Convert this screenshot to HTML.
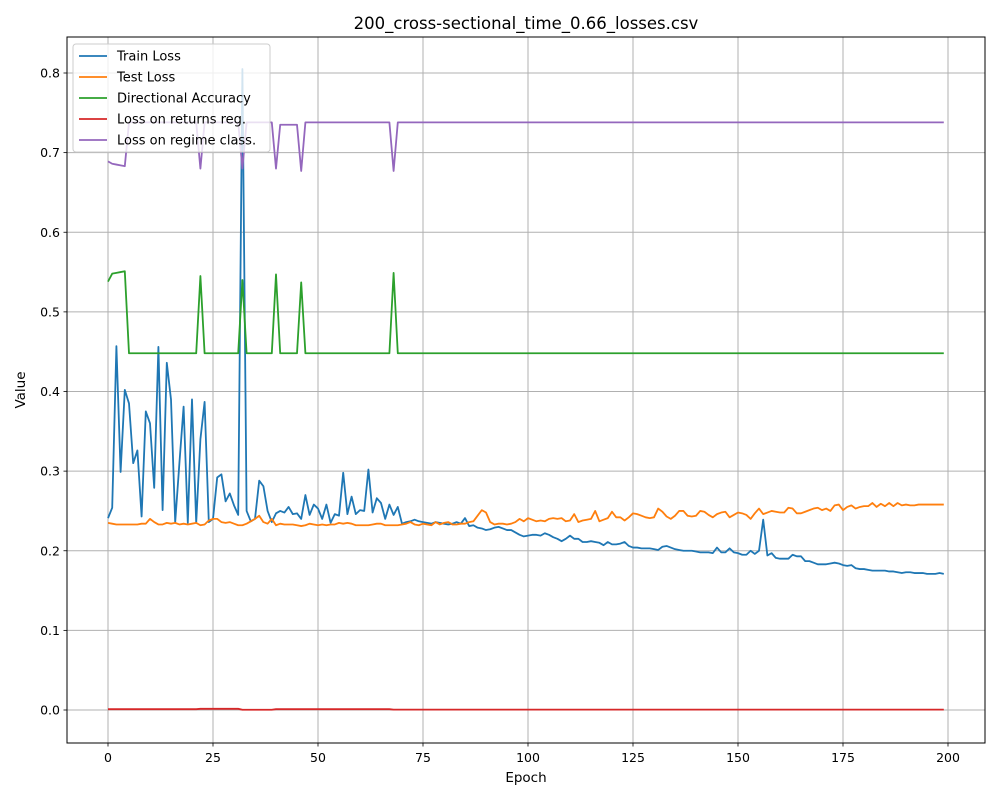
<!DOCTYPE html>
<html><head><meta charset="utf-8"><style>
body{margin:0;background:#fff;font-family:"Liberation Sans","DejaVu Sans",sans-serif;}
svg text{font-family:"DejaVu Sans","Liberation Sans",sans-serif;fill:#000;}
</style></head><body>
<svg id="chart" width="1000" height="800" xmlns="http://www.w3.org/2000/svg">
<rect width="1000" height="800" fill="#fff"/>
<text x="526" y="29" font-size="16.5" text-anchor="middle">200_cross-sectional_time_0.66_losses.csv</text>
<g id="grid"></g><g id="series"></g>
<rect x="67" y="37" width="918" height="706" fill="none" stroke="#000" stroke-width="1"/>
<g id="ticks"></g>
<text x="526" y="782" font-size="13.5" text-anchor="middle">Epoch</text>
<text x="25" y="390" font-size="13.5" text-anchor="middle" transform="rotate(-90 25 390)">Value</text>
<g id="legend"></g>
</svg>
<script>
const xTicks=[0,25,50,75,100,125,150,175,200];
const yTicks=[0.0,0.1,0.2,0.3,0.4,0.5,0.6,0.7,0.8];
const seriesNames=["Train Loss","Test Loss","Directional Accuracy","Loss on returns reg.","Loss on regime class."];
const seriesColors=["#1f77b4","#ff7f0e","#2ca02c","#d62728","#9467bd"];
const trainLoss=[.241,.254,.457,.299,.402,.385,.310,.326,.243,.375,.360,.279,.456,.251,.436,.390,.236,.310,.381,.235,.390,.235,.340,.387,.236,.240,.292,.296,.262,.272,.257,.245,.805,.250,.237,.240,.288,.281,.250,.236,
.247,.250,.248,.255,.246,.247,.240,.270,.245,.258,.253,.240,.258,.235,.246,.244,.298,.246,.268,.246,.251,.250,.302,.248,.266,.260,.240,.258,.245,.255,.234,.236,.237,.239,
.237,.236,.235,.234,.236,.235,
.234,.233,.234,.236,.234,.241,.231,.232,.229,.228,
.226,.227,.229,.230,.228,.226,.226,.223,.220,.218,
.219,.220,.220,.219,.222,.220,.217,.215,.212,.215,
.219,.215,.215,.211,.211,.212,.211,.210,.207,.211,
.208,.208,.209,.211,.206,.204,.204,.203,.203,.203,
.202,.201,.205,.206,.204,.202,.201,.200,.200,.200,
.199,.198,.198,.198,.197,.204,.198,.198,.203,.198,
.197,.195,.195,.200,.196,.200,.239,.194,.197,.191,
.190,.190,.190,.195,.193,.193,.187,.187,.185,.183,
.183,.183,.184,.185,.184,.182,.181,.182,.178,.177,
.177,.176,.175,.175,.175,.175,.174,.174,.173,.172,
.173,.173,.172,.172,.172,.171,.171,.171,.172,.171];
const testLoss=[.235,.234,.233,.233,.233,.233,.233,.233,.234,.234,
.240,.236,.233,.233,.235,.234,.235,.233,.234,.233,
.234,.235,.232,.233,.238,.240,.240,.236,.235,.236,
.234,.232,.232,.234,.237,.240,.244,.236,.234,.240,
.232,.234,.233,.233,.233,.232,.231,.232,.234,.233,
.232,.233,.232,.233,.233,.235,.234,.235,.234,.232,
.232,.232,.232,.233,.234,.234,.232,.232,.232,.232,
.233,.234,.236,.233,.232,.234,.233,.232,.236,.233,
.235,.236,.233,.233,.234,.234,.236,.237,.244,.251,
.248,.236,.233,.234,.234,.233,.234,.236,.240,.237,
.241,.239,.237,.238,.237,.240,.241,.240,.241,.237,
.238,.246,.236,.238,.239,.240,.250,.237,.239,.241,
.249,.242,.242,.238,.242,.247,.246,.244,.242,.241,
.242,.253,.249,.243,.240,.244,.250,.250,.244,.243,
.244,.250,.249,.245,.242,.246,.248,.249,.242,.245,
.248,.247,.245,.240,.247,.253,.246,.248,.250,.249,
.248,.248,.254,.253,.247,.247,.249,.251,.253,.254,
.251,.253,.250,.257,.258,.251,.255,.257,.253,.255,
.256,.256,.260,.255,.259,.256,.260,.256,.260,.257,
.258,.257,.257,.258,.258,.258,.258,.258,.258,.258];
const dirAccSpikes=[[22,.545],[32,.540],[40,.547],[46,.537],[68,.549]];
const dirAccStart=[.538,.548,.549,.550,.551];
const dirAccBase=0.448;
const regimeStart=[.689,.686,.685,.684,.683];
const regimeDips=[[22,.680],[32,.680],[40,.680],[46,.677],[68,.677]];
const regimeMid=[41,45,0.735];
const regimeBase=0.738;
const returnsSegments=[[0,21,.0010],[22,31,.0015],[32,39,.0003],[40,67,.0010],[68,199,.0005]];
const nEpochs=200;

const X=v=>108+v*4.2, Y=v=>710-v*796.25;
const NS="http://www.w3.org/2000/svg";
function mk(tag,attrs,parent){const e=document.createElementNS(NS,tag);for(const k in attrs)e.setAttribute(k,attrs[k]);parent.appendChild(e);return e;}
const grid=document.getElementById('grid'),ticks=document.getElementById('ticks'),ser=document.getElementById('series'),leg=document.getElementById('legend');
xTicks.forEach(t=>{const x=X(t);
 const g=mk('line',{x1:x,x2:x,y1:37,y2:743,stroke:'#b0b0b0','stroke-width':1},grid);
 
 
 mk('line',{x1:x,x2:x,y1:743,y2:746.5,stroke:'#000','stroke-width':0.8},ticks);
 const tx=mk('text',{x:x,y:762,'font-size':12.5,'text-anchor':'middle'},ticks);tx.textContent=t;
 
 });
yTicks.forEach(t=>{const y=Y(t);
 const g=mk('line',{x1:67,x2:985,y1:y,y2:y,stroke:'#b0b0b0','stroke-width':1},grid);
 
 
 mk('line',{x1:63.5,x2:67,y1:y,y2:y,stroke:'#000','stroke-width':0.8},ticks);
 const tx=mk('text',{x:60,y:y+4.5,'font-size':12.5,'text-anchor':'end'},ticks);tx.textContent=t.toFixed(1);
 
 });
const dirAcc=[],regime=[],returnsLoss=[];
for(let i=0;i<nEpochs;i++){
 dirAcc.push(i<dirAccStart.length?dirAccStart[i]:dirAccBase);
 regime.push(i<regimeStart.length?regimeStart[i]:(i>=regimeMid[0]&&i<=regimeMid[1]?regimeMid[2]:regimeBase));
 let r=0.001;returnsSegments.forEach(s=>{if(i>=s[0]&&i<=s[1])r=s[2];});returnsLoss.push(r);}
dirAccSpikes.forEach(s=>dirAcc[s[0]]=s[1]);
regimeDips.forEach(s=>regime[s[0]]=s[1]);
const all=[trainLoss,testLoss,dirAcc,returnsLoss,regime];
const names=['train-loss-line','test-loss-line','directional-accuracy-line','returns-loss-line','regime-loss-line'];
all.forEach((d,k)=>{
 const p=mk('polyline',{points:d.map((v,i)=>X(i).toFixed(2)+','+Y(v).toFixed(2)).join(' '),fill:'none',stroke:seriesColors[k],'stroke-width':1.8,'stroke-linejoin':'round'},ser);
 
 });
mk('rect',{x:73,y:44,width:197,height:108,rx:3,fill:'#fff','fill-opacity':0.8,stroke:'#ccc','stroke-width':1},leg);
seriesNames.forEach((n,k)=>{const y=56+k*21;
 const g=mk('g',{},leg);
 
 
 mk('line',{x1:79,x2:107,y1:y,y2:y,stroke:seriesColors[k],'stroke-width':1.8},g);
 const t=mk('text',{x:117,y:y+4.5,'font-size':13},g);t.textContent=n;});
</script>
</body></html>
